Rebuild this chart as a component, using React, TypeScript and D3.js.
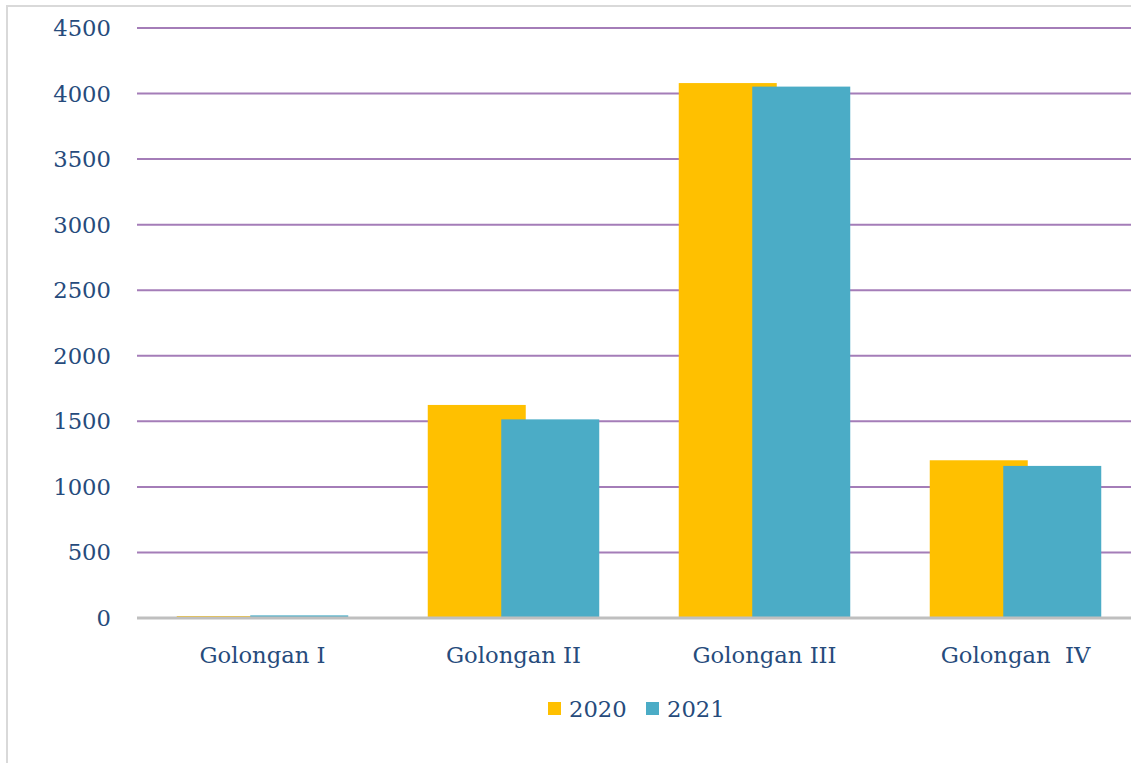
import React from "react";
import * as d3 from "d3";

const categories = ["Golongan I", "Golongan II", "Golongan III", "Golongan  IV"];
const seriesNames = ["2020", "2021"];
const values2020 = [15, 1625, 4080, 1203];
const values2021 = [20, 1515, 4053, 1160];
const yTicks = [0, 500, 1000, 1500, 2000, 2500, 3000, 3500, 4000, 4500];
const colors = ["#FFC000", "#4BACC6"];

const W = 1131;
const H = 763;
const FONT = "'DejaVu Serif', serif";
const TEXT = "#264B7C";

export default function App() {
  const left = 137;
  const right = 1141;
  const y = d3.scaleLinear().domain([0, 4500]).range([618, 28]);
  const x = d3.scaleBand<string>().domain(categories).range([left, right]).padding(0);
  const bw = x.bandwidth();
  const barW = 98;
  const step = 73.5;
  const groupW = barW + step;
  const series = [values2020, values2021];

  return (
    <svg
      width={W}
      height={H}
      style={{ position: "fixed", left: 0, top: 0, background: "#fff" }}
      fontFamily={FONT}
    >
      <rect x={0} y={0} width={W} height={H} fill="#fff" />
      {/* frame */}
      <line x1={7} y1={5} x2={7} y2={H} stroke="#D9D9D9" strokeWidth={2} />
      <line x1={6} y1={6} x2={W} y2={6} stroke="#D9D9D9" strokeWidth={2} />
      {/* gridlines */}
      {yTicks.filter((t) => t > 0).map((t) => (
        <line key={t} x1={left} x2={W} y1={y(t)} y2={y(t)} stroke="#A47DB8" strokeWidth={2} />
      ))}
      {/* y labels */}
      {yTicks.map((t) => (
        <text
          key={"l" + t}
          x={111}
          y={y(t)}
          textAnchor="end"
          dominantBaseline="central"
          fontSize={22.7}
          fill={TEXT}
        >
          {t}
        </text>
      ))}
      {/* bars */}
      {series.map((vals, si) =>
        categories.map((c, ci) => {
          const cx = (x(c) as number) + bw / 2;
          const x0 = cx - groupW / 2 + si * step;
          return (
            <rect
              key={si + "-" + ci}
              x={x0}
              y={y(vals[ci])}
              width={barW}
              height={y(0) - y(vals[ci])}
              fill={colors[si]}
            />
          );
        })
      )}
      {/* x axis */}
      <line x1={left} x2={W} y1={y(0)} y2={y(0)} stroke="#BFBFBF" strokeWidth={3} />
      {categories.map((c) => (
        <text
          key={c}
          x={(x(c) as number) + bw / 2}
          y={655}
          textAnchor="middle"
          dominantBaseline="central"
          fontSize={22.7}
          fill={TEXT}
          style={{ whiteSpace: "pre" }}
        >
          {c}
        </text>
      ))}
      {/* legend */}
      {seriesNames.map((s, i) => {
        const lx = 548 + i * 98;
        return (
          <g key={s}>
            <rect x={lx} y={702} width={13} height={13} fill={colors[i]} />
            <text x={lx + 21} y={709} dominantBaseline="central" fontSize={22.7} fill={TEXT}>
              {s}
            </text>
          </g>
        );
      })}
    </svg>
  );
}
